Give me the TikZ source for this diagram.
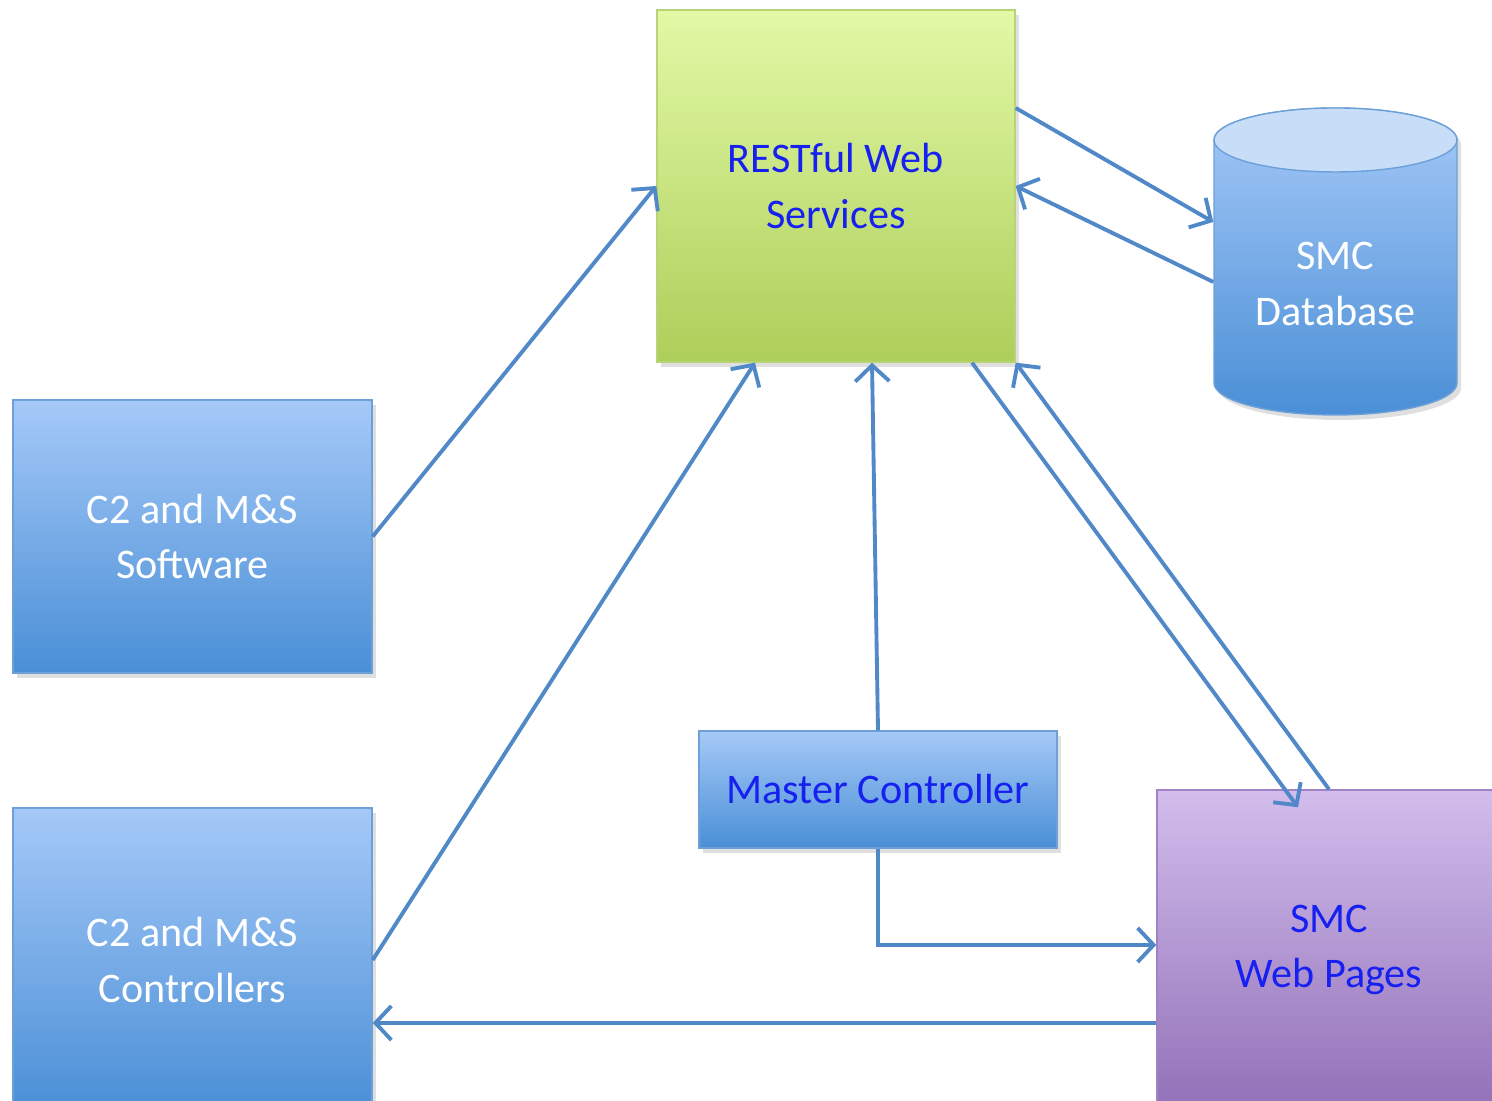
\documentclass[tikz,border=0pt]{standalone}
\usepackage{fontspec}
\setmainfont{Carlito}
\usetikzlibrary{arrows.meta,calc,shadows}

\definecolor{linkblue}{RGB}{80,136,200}
\definecolor{textblue}{RGB}{22,32,240}
\definecolor{boxtop}{RGB}{165,201,248}
\definecolor{boxbot}{RGB}{74,143,214}
\definecolor{boxline}{RGB}{110,160,216}
\definecolor{greentop}{RGB}{226,249,166}
\definecolor{greenbot}{RGB}{174,206,90}
\definecolor{greenline}{RGB}{184,212,118}
\definecolor{purptop}{RGB}{210,189,236}
\definecolor{purpbot}{RGB}{146,113,184}
\definecolor{purpline}{RGB}{160,131,196}
\definecolor{dbcap}{RGB}{200,222,248}

\begin{document}
\begin{tikzpicture}[scale=1.0000]
	\tikzstyle{every node}=[scale=1.0000, font=\fontsize{12}{15.9}\selectfont, align=center]
	\tikzstyle{boxshade}=[drop shadow={opacity=0.25, shadow xshift=0.04, shadow yshift=-0.05}]
	\tikzstyle{bluebox}=[rectangle, boxshade, draw=boxline, top color=boxtop, bottom color=boxbot, inner sep=0pt]
	\tikzstyle{link}=[draw=linkblue, line width=1.1pt, -{Straight Barb[length=1.6mm, width=3.4mm]}]

	\useasboundingbox (0,0) rectangle (14.92,11.01);
	\clip (0,0) rectangle (14.92,11.01);

	%% boxes
	\node [rectangle, boxshade, draw=greenline, top color=greentop, bottom color=greenbot, minimum width=3.58cm, minimum height=3.52cm, text=textblue]  (rest) at (8.36,9.15)  {RESTful Web\\Services};
	\node [bluebox, minimum width=3.59cm, minimum height=2.73cm, text=white]  (soft) at (1.925,5.645)  {C2 and M\&S\\Software};
	\node [bluebox, minimum width=3.59cm, minimum height=3.04cm, text=white]  (ctrl) at (1.925,1.41)  {C2 and M\&S\\Controllers};
	\node [bluebox, minimum width=3.58cm, minimum height=1.17cm, text=textblue]  (master) at (8.78,3.115)  {Master Controller};
	\node [rectangle, boxshade, draw=purpline, top color=purptop, bottom color=purpbot, minimum width=3.44cm, minimum height=3.2cm, text=textblue]  (web) at (13.29,1.51)  {SMC\\Web Pages};

	%% database
	\path [boxshade, draw=boxline, top color=boxtop, bottom color=boxbot]  (12.14,9.61) -- (12.14,7.18) arc [start angle=180, end angle=360, x radius=1.215, y radius=0.32] -- (14.57,9.61) arc [start angle=0, end angle=180, x radius=1.215, y radius=0.32] -- cycle;
	\draw [draw=boxline, fill=dbcap]  (13.355,9.61) ellipse [x radius=1.215, y radius=0.32];
	\node [minimum width=2.43cm, inner sep=0pt, text=white]  (db) at (13.355,8.17)  {SMC\\Database};

	%% connectors
	\draw [link]  (soft.east) -- (rest.west);
	\draw [link]  (ctrl.east) -- ($(rest.south)+(-0.81,0)$);
	\draw [link]  (master.north) -- ($(rest.south)+(0.36,0)$);
	\draw [link]  ($(rest.east)+(0,0.78)$) -- ($(db.west)+(0,0.62)$);
	\draw [link]  ($(db.west)+(0,0.02)$) -- (rest.east);
	\draw [link]  ($(rest.south)+(1.36,0)$) -- ($(web.north)+(-0.31,-0.18)$);
	\draw [link]  (web.north) -- (rest.south east);
	\draw [link]  (master.south) |- ($(web.west)+(0,0.05)$);
	\draw [link]  ($(web.west)+(0,-0.73)$) -- (ctrl.east |- {$(web.west)+(0,-0.73)$});

\end{tikzpicture}
\end{document}
